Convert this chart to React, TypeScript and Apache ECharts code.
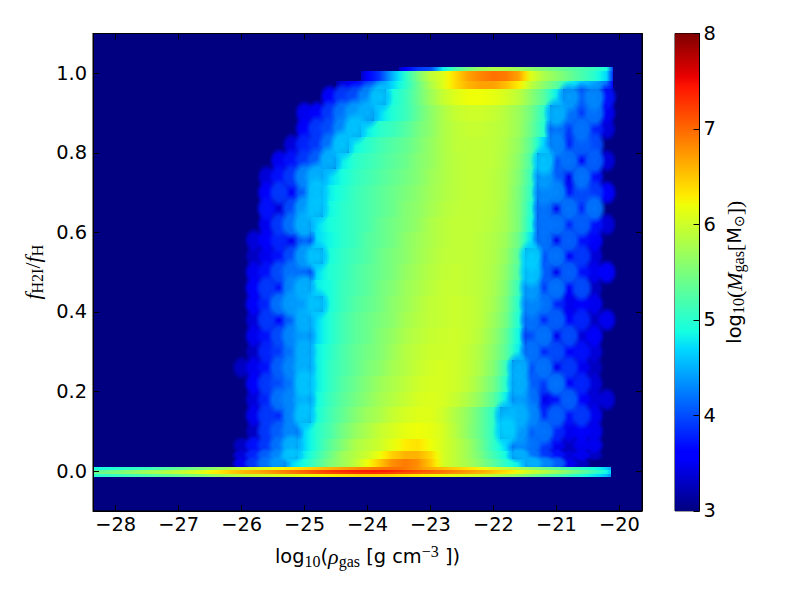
import React, { useEffect, useRef } from "react";
import * as echarts from "echarts";

const xMin = -28.36;
const xMax = -19.64;
const yMin = -0.1;
const yMax = 1.1;
const xTicks = [-28, -27, -26, -25, -24, -23, -22, -21, -20];
const yTicks = [0, 0.2, 0.4, 0.6, 0.8, 1.0];
const barRange = [3, 8];
const bodyFirstX = -26.1;
const binWidth = 0.2;
const blobBelow = 4.7;
const bodyRowEdges = [1.016, 1.006, 0.98, 0.96, 0.92, 0.88, 0.84, 0.8, 0.76, 0.72, 0.68, 0.64, 0.6, 0.56, 0.52, 0.48, 0.44, 0.4, 0.36, 0.32, 0.28, 0.24, 0.2, 0.16, 0.12, 0.08, 0.05, 0.03, 0.0093];
const bodyRows = [
  [3,3,3,3,3,3,3,3,3,3,3,3,3,3.6,3.9,4,4.8,5.2,5.5,5.7,5.8,5.8,5.7,5.6,5.5,5.4,5.3,5.2,5.1,4.9],
  [3,3,3,3,3,3,3,3,3,3,3.6,3.9,4.5,5,5.5,5.9,6.1,6.4,6.7,6.85,6.95,6.9,6.7,6.1,5.8,5.6,5.4,5.2,5,4.7],
  [3,3,3,3,3,3,3,3,3.4,3.6,3.9,4.3,4.7,5,5.4,5.8,6.1,6.4,6.6,6.7,6.7,6.55,6.3,5.9,5.6,5.3,4.9,4.6,4.5,4.2],
  [3,3,3,3,3,3,3,3.6,3.9,4,4.3,4.6,4.9,5.1,5.4,5.7,5.95,6.1,6.2,6.2,6.15,6.05,5.9,5.6,5.3,4.8,4.4,4.1,4.3,3.7],
  [3,3,3,3,3,3.5,3.6,3.9,4.2,4.4,4.5,4.7,4.95,5.1,5.35,5.6,5.8,5.95,6,6,5.95,5.85,5.7,5.45,5.05,4.5,4.2,3.9,4.2,3.5],
  [3,3,3,3,3,3.6,3.9,4,4.3,4.6,4.8,5,5.1,5.25,5.45,5.6,5.8,5.9,5.95,5.95,5.9,5.85,5.7,5.4,5,4.2,3.9,4.2,3.8,3.4],
  [3,3,3,3,3.4,3.8,3.9,4.2,4.6,4.85,5,5.15,5.25,5.35,5.5,5.65,5.8,5.9,5.92,5.92,5.9,5.82,5.65,5.3,4.7,4.3,3.8,4.1,4,3],
  [3,3,3,3.5,3.7,3.9,4.1,4.5,4.8,5,5.1,5.2,5.3,5.4,5.55,5.65,5.8,5.88,5.92,5.92,5.9,5.8,5.6,5.2,4.6,4,4.2,3.6,4.1,3.4],
  [3,3,3.4,3.7,3.9,4.3,4.5,4.7,4.9,5.05,5.15,5.25,5.35,5.45,5.55,5.7,5.8,5.88,5.92,5.92,5.88,5.78,5.55,5.1,4.4,4.1,3.5,4.2,3.7,3],
  [3,3,3.6,3.9,3.6,4.1,4.6,4.8,4.95,5.1,5.2,5.3,5.4,5.5,5.6,5.72,5.82,5.88,5.92,5.92,5.88,5.78,5.5,5.05,4.3,4.3,3.7,4,3.9,3.6],
  [3,3,3.7,3.4,4,4.4,4.6,4.85,5,5.1,5.2,5.3,5.4,5.55,5.62,5.75,5.85,5.9,5.92,5.9,5.88,5.75,5.5,4.95,4.2,3.5,4.2,3.8,4.2,3],
  [3,3,3.5,3.9,4.2,4.5,4.7,4.9,5,5.1,5.2,5.35,5.45,5.55,5.65,5.8,5.88,5.92,5.92,5.9,5.85,5.75,5.5,4.9,4.2,4.2,3.8,4.1,3.7,3.4],
  [3,3.4,3.6,3.8,3.5,4.1,4.7,4.85,5,5.1,5.25,5.35,5.45,5.6,5.7,5.8,5.88,5.92,5.92,5.88,5.82,5.7,5.4,4.75,4.2,3.5,4.1,3.7,3.6,3],
  [3,3.3,3.5,3.7,4,4.4,4.6,4.9,5.05,5.15,5.25,5.4,5.5,5.6,5.72,5.82,5.9,5.92,5.92,5.88,5.82,5.65,5.3,4.65,4,4.2,3.6,3.9,3.4,3],
  [3,3.5,3.7,4,4.2,4.1,4.7,4.95,5.05,5.2,5.3,5.4,5.5,5.65,5.75,5.85,5.92,5.95,5.92,5.88,5.8,5.6,5.25,4.6,4.1,3.5,4.1,3.7,3.5,3.6],
  [3,3.6,3.9,3.7,4.3,4.5,4.8,4.9,5.1,5.2,5.3,5.45,5.55,5.7,5.78,5.88,5.95,5.95,5.92,5.88,5.78,5.55,5.1,4.4,3.9,4.2,3.6,4,3.3,3],
  [3,3.6,3.8,4.2,4.4,4.4,4.6,4.9,5.1,5.25,5.35,5.45,5.6,5.7,5.82,5.92,5.95,5.98,5.95,5.88,5.75,5.5,5,4.3,4.2,3.8,3.5,3.6,3.5,3],
  [3,3.4,3.9,3.6,4.1,4.5,4.7,4.95,5.15,5.3,5.4,5.5,5.6,5.75,5.85,5.92,5.95,5.98,5.95,5.88,5.7,5.45,4.95,4.2,3.8,4.1,3.6,3.8,3.3,3.5],
  [3,3.5,3.7,4,4.3,4.4,4.7,4.95,5.15,5.3,5.4,5.55,5.65,5.8,5.88,5.95,5.98,6,5.95,5.85,5.65,5.35,4.85,4,4.2,3.5,4,3.4,3.6,3],
  [3,3.3,3.8,3.9,4.2,4.5,4.8,5,5.2,5.35,5.45,5.55,5.7,5.85,5.92,5.98,6,6,5.92,5.8,5.6,5.3,4.8,4.2,3.8,4,3.6,3.7,3.4,3],
  [3.3,3.5,3.7,4.1,4.3,4.5,4.8,5.05,5.2,5.35,5.5,5.6,5.75,5.85,5.95,6.02,6.05,6,5.92,5.78,5.55,5.1,4.5,4,4.2,3.5,3.9,3.5,3.3,3],
  [3,3.6,3.9,4,4.2,4.6,4.8,5.05,5.25,5.4,5.55,5.7,5.8,5.9,6,6.05,6.05,6,5.9,5.7,5.45,5,4.5,4.1,3.9,4.2,3.6,3.8,3.4,3],
  [3,3.4,3.8,4.2,4.3,4.5,4.85,5.1,5.3,5.45,5.6,5.75,5.85,5.95,6.05,6.08,6.05,5.95,5.8,5.6,5.3,4.8,4.4,4.2,3.5,3.7,4.1,3.6,3.4,3.4],
  [3,3.5,3.9,3.8,4.3,4.6,4.9,5.15,5.35,5.55,5.7,5.8,5.95,6.05,6.1,6.1,6,5.82,5.62,5.35,5.05,4.55,4.5,4.3,3.8,4.1,3.7,3.9,3.5,3],
  [3,3.3,3.9,4.1,4.3,4.7,5,5.2,5.45,5.65,5.8,5.95,6.05,6.15,6.2,6.15,6.05,5.85,5.6,5.35,5.05,4.65,4.4,4.1,4.2,3.8,3.5,3.6,3.5,3],
  [3.3,3.7,3.9,4.2,4.5,4.7,5,5.3,5.55,5.8,5.9,6,6.15,6.3,6.35,6.2,6.05,5.9,5.7,5.4,5.05,4.7,4.3,4.2,3.9,3.5,3.3,3.5,3.5,3],
  [3.4,3.8,4.1,4.3,4.6,4.8,5.1,5.4,5.7,5.85,6,6.2,6.45,6.6,6.6,6.4,6.05,5.9,5.7,5.45,5.15,4.85,4.5,4.2,3.9,3.7,3.4,3.5,3.3,3],
  [3.5,3.9,4.2,4.4,4.7,4.9,5.2,5.5,5.7,5.9,6.2,6.5,6.8,6.9,6.8,6.5,6.05,5.9,5.75,5.55,5.3,5,4.8,4.5,4.3,4.1,3.5,3.3,3,3],
];

const stripFirstX = -28.4;
const stripEndX = -20.13;
const stripRowEdges = [0.0093, 0.0034, -0.0025, -0.0084, -0.0144];
const stripTop = [4.9,4.95,5,5.05,5.1,5.2,5.3,5.4,5.5,5.6,5.7,5.85,5.95,6.05,6.15,6.25,6.35,6.45,6.55,6.65,6.75,6.85,6.9,6.95,6.95,6.85,6.7,6.6,6.5,6.4,6.3,6.15,6,5.85,5.7,5.55,5.4,5.25,5.1,4.95,4.8,4.5];
const stripUpper = [5.3,5.4,5.5,5.6,5.7,5.75,5.85,5.95,6.05,6.2,6.35,6.5,6.6,6.7,6.8,6.9,7,7.1,7.2,7.3,7.35,7.4,7.42,7.4,7.3,7.2,7.1,7,6.9,6.8,6.7,6.6,6.45,6.3,6.1,5.95,5.8,5.65,5.45,5.25,5,4.7];
const stripLower = [5.4,5.5,5.55,5.65,5.75,5.8,5.9,6,6.1,6.25,6.35,6.5,6.6,6.65,6.75,6.85,6.95,7.05,7.15,7.2,7.25,7.3,7.3,7.25,7.15,7.1,7,6.95,6.85,6.75,6.65,6.55,6.4,6.25,6.05,5.9,5.75,5.6,5.4,5.2,4.95,4.7];
const stripBottom = [5,5.05,5.1,5.15,5.2,5.3,5.35,5.45,5.55,5.65,5.75,5.85,5.95,6,6.05,6.1,6.15,6.2,6.25,6.3,6.35,6.4,6.4,6.4,6.35,6.3,6.25,6.2,6.15,6.1,6.05,5.95,5.8,5.7,5.55,5.4,5.25,5.15,5,4.85,4.7,4.4];
const stripRows = [stripTop, stripUpper, stripLower, stripBottom];

const jetStops: [number, number, number, number][] = [
  [0, 0, 0, 128], [0.11, 0, 0, 255], [0.125, 0, 0, 255], [0.34, 0, 217, 255], [0.375, 20, 255, 226],
  [0.64, 238, 255, 8], [0.66, 255, 236, 0], [0.89, 255, 19, 0], [0.91, 232, 0, 0], [1, 128, 0, 0],
];

function jetAt(t: number, alpha = 1) {
  const c = Math.max(0, Math.min(1, t));
  for (let i = 1; i < jetStops.length; i++) {
    const a = jetStops[i - 1];
    const b = jetStops[i];
    if (c <= b[0]) {
      const f = (c - a[0]) / (b[0] - a[0]);
      return `rgba(${[1, 2, 3].map((k) => Math.round(a[k] + (b[k] - a[k]) * f)).join(",")},${alpha})`;
    }
  }
  return `rgba(128,0,0,${alpha})`;
}
const massColor = (v: number, alpha = 1) => jetAt((v - 3) / 5, alpha);

function buildCells() {
  const cells: number[][] = [];
  const blobs: number[][] = [];
  const strip: number[][] = [];
  bodyRows.forEach((row, r) => {
    row.forEach((v, c) => {
      if (v <= 3) return;
      const x0 = bodyFirstX + c * binWidth;
      const left = c > 0 ? row[c - 1] : 3;
      const right = c < row.length - 1 ? row[c + 1] : 3;
      const cell = [x0, x0 + binWidth, bodyRowEdges[r + 1], bodyRowEdges[r], v, (v + left) / 2, (v + right) / 2, v < blobBelow && r > 2 ? 1 : 0];
      (cell[7] ? blobs : cells).push(cell);
    });
  });
  stripRows.forEach((row, r) => {
    row.forEach((v, c) => {
      const x0 = stripFirstX + c * binWidth;
      const x1 = c === row.length - 1 ? stripEndX : x0 + binWidth;
      const left = c > 0 ? row[c - 1] : v;
      const right = c < row.length - 1 ? row[c + 1] : v;
      strip.push([x0, x1, stripRowEdges[r + 1], stripRowEdges[r], v, (v + left) / 2, (v + right) / 2, 0]);
    });
  });
  blobs.sort((a, b) => a[4] - b[4]);
  return [...cells, ...blobs, ...strip];
}

const t = { fontFamily: "DejaVu Sans", fontSize: 19.4, color: "#000" };
const i = { fontFamily: "Liberation Serif", fontStyle: "italic", fontSize: 22, color: "#000" };
const s = { fontFamily: "Liberation Serif", fontSize: 16, color: "#000", padding: [9, 0, 0, 0] };
const u = { fontFamily: "Liberation Serif", fontSize: 16, color: "#000", padding: [0, 0, 10, 0] };
const r = { fontFamily: "Liberation Serif", fontSize: 22, color: "#000" };
const o = { fontFamily: "DejaVu Sans", fontSize: 14, color: "#000", padding: [9, 0, 0, 0] };
const rich = { t, i, s, u, r, o };

const tickFont = { fontFamily: "DejaVu Sans", fontSize: 19.4, color: "#000" };
const minus = (v: number) => String(v).replace("-", "\u2212");
const edge = { show: true, onZero: false, lineStyle: { color: "#000" } };

export default function App() {
  const ref = useRef<HTMLDivElement>(null);
  useEffect(() => {
    const chart = echarts.init(ref.current!, undefined, { renderer: "svg" });
    chart.setOption({
      animation: false,
      backgroundColor: "#fff",
      grid: [
        { left: 93, top: 33.5, width: 549, height: 477.4, show: true, backgroundColor: "#000080", borderColor: "#000", borderWidth: 1 },
        { left: 675, top: 33.5, width: 24.5, height: 477.4, show: true, backgroundColor: "#fff", borderColor: "#000", borderWidth: 1 },
      ],
      xAxis: [
        {
          type: "value", gridIndex: 0, min: xMin, max: xMax, position: "bottom", z: 5,
          splitLine: { show: false }, axisLine: edge,
          axisTick: { inside: true, length: 6, customValues: xTicks, lineStyle: { color: "#000" } },
          axisLabel: { ...tickFont, margin: 4, customValues: xTicks, formatter: (v: number) => minus(v) },
          name: "{t|log}{s|10}{t|(}{i|\u03c1}{s|gas}{t| [g cm}{u|\u22123}{t| ])}",
          nameLocation: "middle", nameGap: 33, nameTextStyle: { rich },
        },
        {
          type: "value", gridIndex: 0, min: xMin, max: xMax, position: "top", z: 5,
          splitLine: { show: false }, axisLine: edge,
          axisTick: { inside: true, length: 6, customValues: xTicks, lineStyle: { color: "#000" } },
          axisLabel: { show: false },
        },
        { type: "value", gridIndex: 1, min: 0, max: 1, show: false },
      ],
      yAxis: [
        {
          type: "value", gridIndex: 0, min: yMin, max: yMax, position: "left", z: 5,
          splitLine: { show: false }, axisLine: edge,
          axisTick: { inside: true, length: 6, customValues: yTicks, lineStyle: { color: "#000" } },
          axisLabel: { ...tickFont, margin: 6, customValues: yTicks, formatter: (v: number) => v.toFixed(1) },
          name: "{i|f}{s|H2I}{r|/}{i|f}{s|H}",
          nameLocation: "middle", nameGap: 43, nameRotate: 90, nameTextStyle: { rich },
        },
        {
          type: "value", gridIndex: 0, min: yMin, max: yMax, position: "right", z: 5,
          splitLine: { show: false }, axisLine: edge,
          axisTick: { inside: true, length: 6, customValues: yTicks, lineStyle: { color: "#000" } },
          axisLabel: { show: false },
        },
        {
          type: "value", gridIndex: 1, min: barRange[0], max: barRange[1], interval: 1, position: "right", z: 5,
          splitLine: { show: false }, axisLine: edge,
          axisTick: { inside: true, length: 6, lineStyle: { color: "#000" } },
          axisLabel: { ...tickFont, margin: 4 },
          name: "{t|log}{s|10}{r|(}{i|M}{s|gas}{r|[}{t|M}{o|\u2299}{r|])}",
          nameLocation: "middle", nameGap: 22, nameRotate: 90, nameTextStyle: { rich },
        },
      ],
      series: [
        {
          type: "custom", xAxisIndex: 0, yAxisIndex: 0, coordinateSystem: "cartesian2d", clip: true,
          encode: { x: [0, 1], y: [2, 3] }, silent: true, z: 1,
          data: buildCells(),
          renderItem: (_: unknown, api: any) => {
            const a = api.coord([api.value(0), api.value(3)]);
            const b = api.coord([api.value(1), api.value(2)]);
            const v = api.value(4);
            if (api.value(7)) {
              const cx = (a[0] + b[0]) / 2;
              const cy = (a[1] + b[1]) / 2;
              const k = 0.8 + (0.3 * (v - 3.3)) / 1.4;
              const hw = (b[0] - a[0]) * k;
              const hh = (b[1] - a[1]) * k;
              return {
                type: "rect",
                shape: { x: cx - hw, y: cy - hh, width: 2 * hw, height: 2 * hh },
                style: {
                  fill: new echarts.graphic.RadialGradient(0.5, 0.5, 0.5, [
                    { offset: 0, color: massColor(v, 1) },
                    { offset: 0.55, color: massColor(v, 0.9) },
                    { offset: 1, color: massColor(v, 0) },
                  ]),
                },
              };
            }
            const x0 = Math.round(a[0]);
            const x1 = Math.round(b[0]);
            const y0 = Math.round(a[1]);
            const y1 = Math.round(b[1]);
            return {
              type: "rect",
              shape: { x: x0, y: y0, width: x1 - x0, height: y1 - y0 },
              style: {
                fill: new echarts.graphic.LinearGradient(0, 0, 1, 0, [
                  { offset: 0, color: massColor(api.value(5)) },
                  { offset: 0.5, color: massColor(v) },
                  { offset: 1, color: massColor(api.value(6)) },
                ]),
              },
            };
          },
        },
        {
          type: "custom", xAxisIndex: 2, yAxisIndex: 2, coordinateSystem: "cartesian2d", silent: true, z: 1,
          encode: { x: [0, 1], y: [2, 3] },
          data: [[0, 1, barRange[0], barRange[1]]],
          renderItem: (_: unknown, api: any) => {
            const a = api.coord([api.value(0), api.value(3)]);
            const b = api.coord([api.value(1), api.value(2)]);
            return {
              type: "rect",
              shape: { x: a[0], y: a[1], width: b[0] - a[0], height: b[1] - a[1] },
              style: {
                fill: new echarts.graphic.LinearGradient(0, 1, 0, 0, jetStops.map((q) => ({
                  offset: q[0], color: `rgb(${q[1]},${q[2]},${q[3]})`,
                }))),
              },
            };
          },
        },
      ],
    });
    return () => chart.dispose();
  }, []);
  return <div ref={ref} style={{ position: "absolute", left: 0, top: 0, width: 800, height: 600, background: "#fff" }} />;
}
